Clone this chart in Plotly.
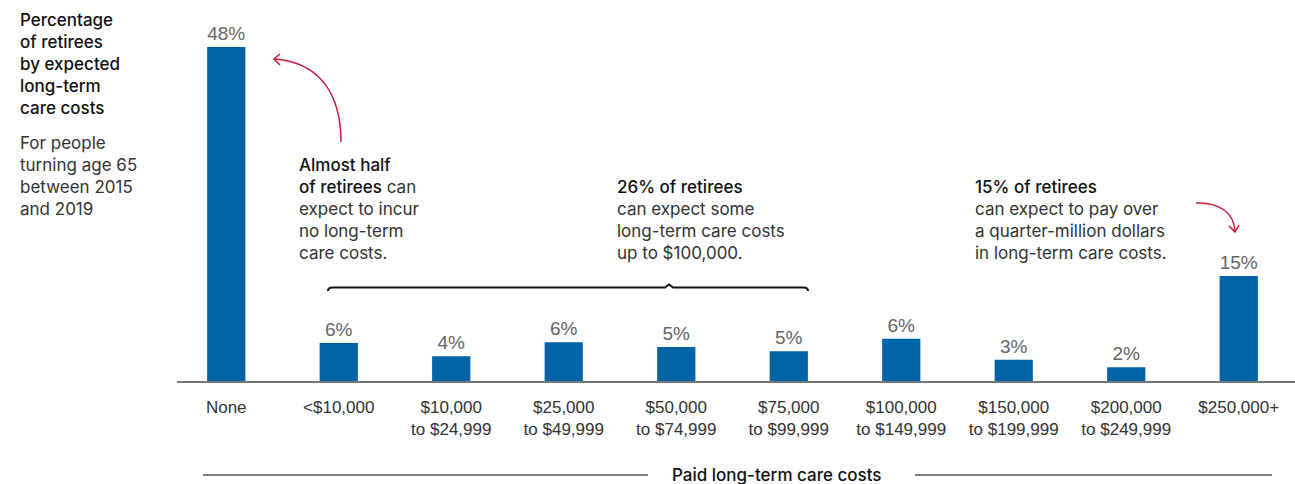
import plotly.graph_objects as go

categories = ["None", "<$10,000", "$10,000<br>to $24,999", "$25,000<br>to $49,999",
              "$50,000<br>to $74,999", "$75,000<br>to $99,999", "$100,000<br>to $149,999",
              "$150,000<br>to $199,999", "$200,000<br>to $249,999", "$250,000+"]
values = [48, 5.6, 3.7, 5.7, 5.0, 4.4, 6.2, 3.2, 2.1, 15.2]
value_labels = ["48%", "6%", "4%", "6%", "5%", "5%", "6%", "3%", "2%", "15%"]

W, H = 1295, 484
ML, MR, MT, MB = 170, 0, 20, 102
PPU = 6.98  # pixels per percentage point
YTOP = (H - MT - MB) / PPU
PW, PH = W - ML - MR, H - MT - MB

def PX(px):
    return (px - ML) / PW

def PY(py):
    return (H - MB - py) / PH

BLUE = "#0064A6"
RED = "#C8193C"
TXT = "Inter, Liberation Sans, Arial, sans-serif"
TICK = "Liberation Sans, Arial, sans-serif"

fig = go.Figure(go.Bar(
    x=categories, y=values, text=value_labels, textposition="outside",
    textfont=dict(family=TICK, size=19, color="#666666"),
    marker=dict(color=BLUE, line=dict(width=0)), width=0.34, cliponaxis=False,
    hoverinfo="skip",
))

shapes = []
def pshape(path, color, width):
    shapes.append(dict(type="path", xref="paper", yref="paper", path=path,
                       line=dict(color=color, width=width), layer="above"))

# baseline
pshape(f"M {PX(177)} {PY(382)} L {PX(1295)} {PY(382)}", "#777777", 2)
# bracket
pshape(f"M {PX(328)} {PY(291)} Q {PX(328)} {PY(287.5)} {PX(332)} {PY(287.5)} "
       f"L {PX(665)} {PY(287.5)} L {PX(669)} {PY(284.5)} L {PX(673)} {PY(287.5)} "
       f"L {PX(804)} {PY(287.5)} Q {PX(808)} {PY(287.5)} {PX(808)} {PY(291)}", "#111111", 2)
# arrows
pshape(f"M {PX(341)} {PY(142)} C {PX(341)} {PY(92)} {PX(318)} {PY(62)} {PX(274)} {PY(59)}", RED, 1.5)
pshape(f"M {PX(280)} {PY(54)} L {PX(274)} {PY(59)} L {PX(280)} {PY(65)}", RED, 1.5)
pshape(f"M {PX(1196)} {PY(203)} C {PX(1218)} {PY(202)} {PX(1234)} {PY(212)} {PX(1235)} {PY(231)}", RED, 1.5)
pshape(f"M {PX(1229)} {PY(226)} L {PX(1235)} {PY(232)} L {PX(1239)} {PY(225)}", RED, 1.5)
# bottom title lines
pshape(f"M {PX(203)} {PY(475)} L {PX(648)} {PY(475)}", "#555555", 1.5)
pshape(f"M {PX(915)} {PY(475)} L {PX(1272)} {PY(475)}", "#555555", 1.5)

def ann(px, py, text, size=17, color="#333333", xanchor="left", yanchor="top"):
    return dict(xref="paper", yref="paper", x=PX(px), y=PY(py), text=text, showarrow=False,
                xanchor=xanchor, yanchor=yanchor, align="left",
                font=dict(family=TXT, size=size, color=color))

B = '<span style="font-weight:500;color:#111111">'
annotations = [
    ann(18, 8, B + "Percentage<br>of retirees<br>by expected<br>long-term<br>care costs</span>", color="#111111"),
    ann(18, 131, "For people<br>turning age 65<br>between 2015<br>and 2019"),
    ann(297, 153, B + "Almost half<br>of retirees</span> can<br>expect to incur<br>no long-term<br>care costs."),
    ann(615, 175, B + "26% of retirees</span><br>can expect some<br>long-term care costs<br>up to $100,000."),
    ann(973, 175, B + "15% of retirees</span><br>can expect to pay over<br>a quarter-million dollars<br>in long-term care costs."),
    ann(776, 475, B + "Paid long-term care costs</span>", xanchor="center", yanchor="middle"),
]

fig.update_layout(
    width=W, height=H, margin=dict(l=ML, r=MR, t=MT, b=MB),
    plot_bgcolor="white", paper_bgcolor="white", showlegend=False,
    xaxis=dict(type="category", range=[-0.5, len(categories) - 0.5], showgrid=False,
               showline=False, ticks="", ticklabelstandoff=13,
               tickfont=dict(family=TICK, size=17, color="#333333")),
    yaxis=dict(range=[0, YTOP], visible=False, showgrid=False),
    shapes=shapes, annotations=annotations, bargap=0.66,
)

fig.write_html("out.html", config={"displayModeBar": False},
               post_script="document.body.style.margin='0';")
